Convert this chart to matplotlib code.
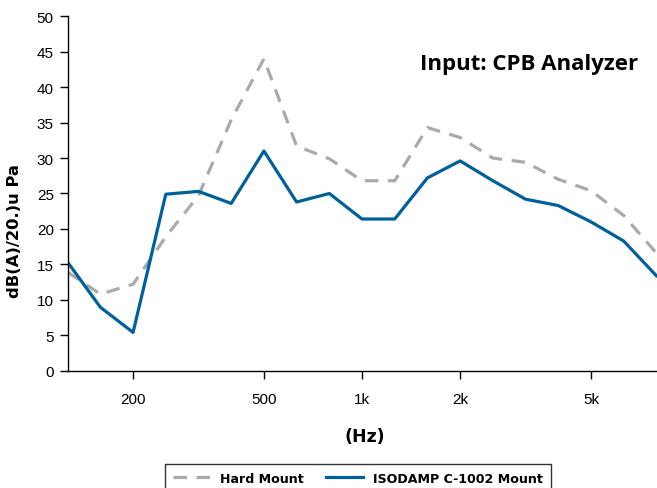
import matplotlib.pyplot as plt
import numpy as np

# 1/3 octave bands, 125 Hz .. 8 kHz
bands = ['125', '160', '200', '250', '315', '400', '500', '630', '800',
         '1k', '1.25k', '1.6k', '2k', '2.5k', '3.15k', '4k', '5k', '6.3k', '8k']
hard_mount = [13.9, 10.8, 12.2, 18.9, 24.7, 35.4, 44.0, 31.7, 29.9,
              26.8, 26.8, 34.3, 32.9, 30.0, 29.4, 27.0, 25.4, 21.9, 16.6]
isodamp = [15.3, 8.95, 5.4, 24.9, 25.3, 23.6, 31.0, 23.8, 25.0,
           21.4, 21.4, 27.2, 29.6, 26.8, 24.2, 23.3, 21.0, 18.3, 13.4]
tick_bands = ['200', '500', '1k', '2k', '5k']

plt.rcParams['font.family'] = ['Liberation Sans', 'DejaVu Sans']
bold = {'family': 'DejaVu Sans', 'weight': 'bold'}

fig = plt.figure(figsize=(6.57, 4.89), dpi=100)
ax = fig.add_axes([0.103, 0.2399, 0.897, 0.7247])

x = np.arange(len(bands))
ax.plot(x, hard_mount, color='#aaaaaa', lw=2.3, dashes=(4.2, 3.0), label='Hard Mount')
ax.plot(x, isodamp, color='#00609c', lw=2.3, label='ISODAMP C-1002 Mount')

ax.set_xlim(0, 18.02)
ax.set_ylim(0, 50)
ax.set_yticks(range(0, 51, 5))
ax.set_xticks([bands.index(b) for b in tick_bands])
ax.set_xticklabels(tick_bands)
ax.tick_params(axis='y', labelsize=11, length=6, width=1, pad=4)
ax.tick_params(axis='x', labelsize=11, length=6, width=1, pad=9)
for s in ['top', 'right']:
    ax.spines[s].set_visible(False)
for s in ['left', 'bottom']:
    ax.spines[s].set_linewidth(1)

ax.set_ylabel('dB(A)/20.)u Pa', fontsize=11.8, **bold)
ax.yaxis.set_label_coords(-0.078, 0.398)

fig.text(365 / 657, 1 - 437 / 489, '(Hz)', fontsize=12.5, ha='center',
         va='center', **bold)
fig.text(638 / 657, 1 - 70 / 489, 'Input: CPB Analyzer', fontsize=16,
         fontweight='bold', family=['Open Sans', 'DejaVu Sans'],
         ha='right', va='baseline')

leg = fig.legend(loc='upper center', bbox_to_anchor=(358 / 657, 1 - 459 / 489),
                 ncol=2, frameon=True, fancybox=False, edgecolor='black',
                 prop={'family': 'DejaVu Sans', 'weight': 'bold', 'size': 9.1},
                 handlelength=2.9, columnspacing=1.8, borderpad=0.6)
leg.get_frame().set_linewidth(1)

fig.savefig('out.png', dpi=100)
